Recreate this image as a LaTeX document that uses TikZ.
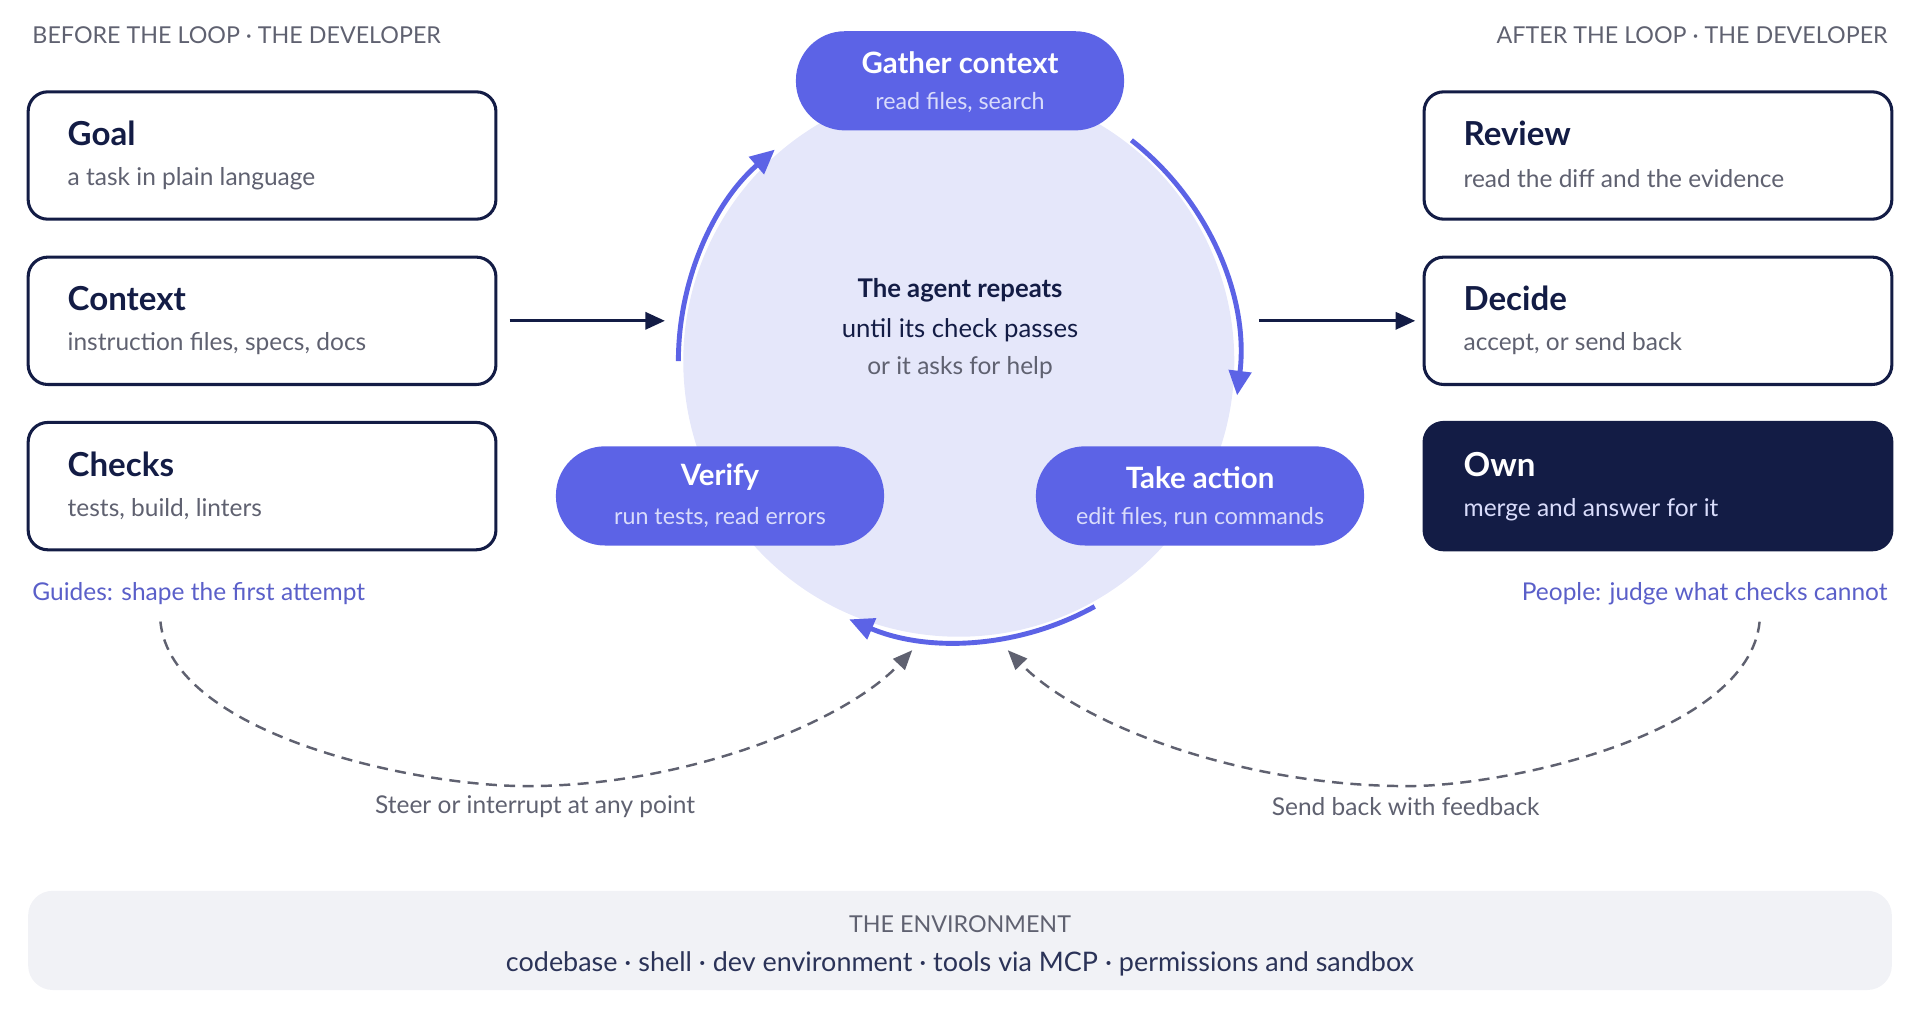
\documentclass[tikz,border=0pt]{standalone}
\usepackage{fontspec}
\setmainfont{Lato}
\usetikzlibrary{positioning,calc,arrows.meta}
\definecolor{navy}{HTML}{131C45}
\definecolor{accent}{HTML}{5C63E6}
\definecolor{lav}{HTML}{E5E7FA}
\definecolor{pale}{HTML}{D9DCFB}
\definecolor{graytext}{HTML}{5F6170}
\definecolor{guide}{HTML}{5A5FC9}
\definecolor{envfill}{HTML}{F1F2F6}
\tikzset{
  step box/.style={draw=navy, line width=2.5pt, rounded corners=16pt,
    minimum width=382pt, minimum height=104pt},
  pill/.style={fill=accent, rounded corners=40pt,
    minimum width=268pt, minimum height=81pt},
  box title/.style={anchor=west, text=navy, font=\bfseries\fontsize{27}{30}\selectfont},
  box sub/.style={anchor=west, text=graytext, font=\fontsize{20}{24}\selectfont},
  pill title/.style={text=white, font=\bfseries\fontsize{24}{28}\selectfont},
  pill sub/.style={text=pale, font=\fontsize{19}{22}\selectfont},
  header/.style={text=graytext, font=\fontsize{19}{22}\selectfont},
  loop arc/.style={accent, line width=4pt, -{Triangle[length=20pt,width=18pt]}},
  steer/.style={graytext, dashed, line width=2pt, dash pattern=on 9pt off 6pt,
    -{Triangle[length=16pt,width=13pt]}},
}
\begin{document}
\begin{tikzpicture}[x=1pt,y=1pt]
  \useasboundingbox (0,0) rectangle (1568,830);
  % headers
  \node[header, anchor=west] (hl) at (23,801) {BEFORE THE LOOP · THE DEVELOPER};
  \node[header, anchor=east] (hr) at (1545,801) {AFTER THE LOOP · THE DEVELOPER};

  % left boxes
  \foreach \name/\y/\ttl/\sub in {goal/703/Goal/a task in plain language,
      context/568/Context/{instruction files, specs, docs},
      checks/433/Checks/{tests, build, linters}}{
    \node[step box] (\name) at (214,\y) {};
    \node[box title] at ($(\name.west)+(30,18)$) {\ttl};
    \node[box sub] at ($(\name.west)+(30,-19)$) {\sub};
  }
  % right boxes
  \foreach \name/\y/\ttl/\sub in {review/703/Review/read the diff and the evidence,
      decide/568/Decide/{accept, or send back}}{
    \node[step box] (\name) at (1354,\y) {};
    \node[box title] at ($(\name.west)+(30,18)$) {\ttl};
    \node[box sub] at ($(\name.west)+(30,-19)$) {\sub};
  }
  \node[step box, fill=navy] (own) at (1354,433) {};
  \node[box title, text=white] at ($(own.west)+(30,18)$) {Own};
  \node[box sub, text=pale] at ($(own.west)+(30,-19)$) {merge and answer for it};

  \node[anchor=west, text=guide, font=\fontsize{20}{24}\selectfont] (guides) at (23,345) {Guides: shape the first attempt};
  \node[anchor=east, text=guide, font=\fontsize{20}{24}\selectfont] (people) at (1545,345) {People: judge what checks cannot};

  % the loop
  \coordinate (c) at (783,535);
  \fill[lav] (c) circle (225);
  \draw[loop arc] ($(c)+(180:229)$) arc (180:131:229);
  \draw[loop arc] ($(c)+(52:229)$) arc (52:-7:229);
  \draw[loop arc] ($(c)+(-61:229)$) arc (-61:-113:229);

  \node[pill] (gather) at (784,764) {};
  \node[pill title] at ($(gather)+(0,15)$) {Gather context};
  \node[pill sub] at ($(gather)+(0,-18)$) {read files, search};
  \node[pill] (verify) at (588,425) {};
  \node[pill title] at ($(verify)+(0,15)$) {Verify};
  \node[pill sub] at ($(verify)+(0,-18)$) {run tests, read errors};
  \node[pill] (action) at (980,425) {};
  \node[pill title] at ($(action)+(0,15)$) {Take action};
  \node[pill sub] at ($(action)+(0,-18)$) {edit files, run commands};

  \node[text=navy, font=\bfseries\fontsize{21}{24}\selectfont] (repeat) at (784,593) {The agent repeats};
  \node[text=navy, font=\fontsize{21}{24}\selectfont, below=6pt of repeat] (until) {until its check passes};
  \node[text=graytext, font=\fontsize{20}{24}\selectfont, below=5pt of until] (help) {or it asks for help};

  % into and out of the loop
  \coordinate (in) at (543,568);
  \coordinate (out) at (1028,568);
  \draw[navy, line width=2.5pt, -{Triangle[length=16pt,width=14pt]}] (context.east) ++(10,0) -- (in);
  \draw[navy, line width=2.5pt, -{Triangle[length=16pt,width=14pt]}] (out) -- ($(decide.west)+(-6,0)$);

  % steering and feedback
  \coordinate (steer end) at (745,299);
  \coordinate (back end) at (823,299);
  \draw[steer] ($(guides.south west)+(108,-10)$) .. controls (140,230) and (340,188) .. (430,188)
     .. controls (560,188) and (690,240) .. (steer end);
  \draw[steer] ($(people.south east)+(-108,-10)$) .. controls (1428,230) and (1230,188) .. (1150,188)
     .. controls (1010,188) and (880,240) .. (back end);
  \node[header, font=\fontsize{20}{24}\selectfont] (steerlbl) at (437,171) {Steer or interrupt at any point};
  \node[header, font=\fontsize{20}{24}\selectfont] (backlbl) at (1148,171) {Send back with feedback};

  % environment
  \node[fill=envfill, rounded corners=20pt, minimum width=1522pt, minimum height=81pt] (env) at (784,62) {};
  \node[header, font=\fontsize{19}{22}\selectfont] (envtitle) at (784,75) {THE ENVIRONMENT};
  \node[text=navy!90, font=\fontsize{22}{26}\selectfont] (envtools) at (784,43) {codebase · shell · dev environment · tools via MCP · permissions and sandbox};
\end{tikzpicture}
\end{document}
